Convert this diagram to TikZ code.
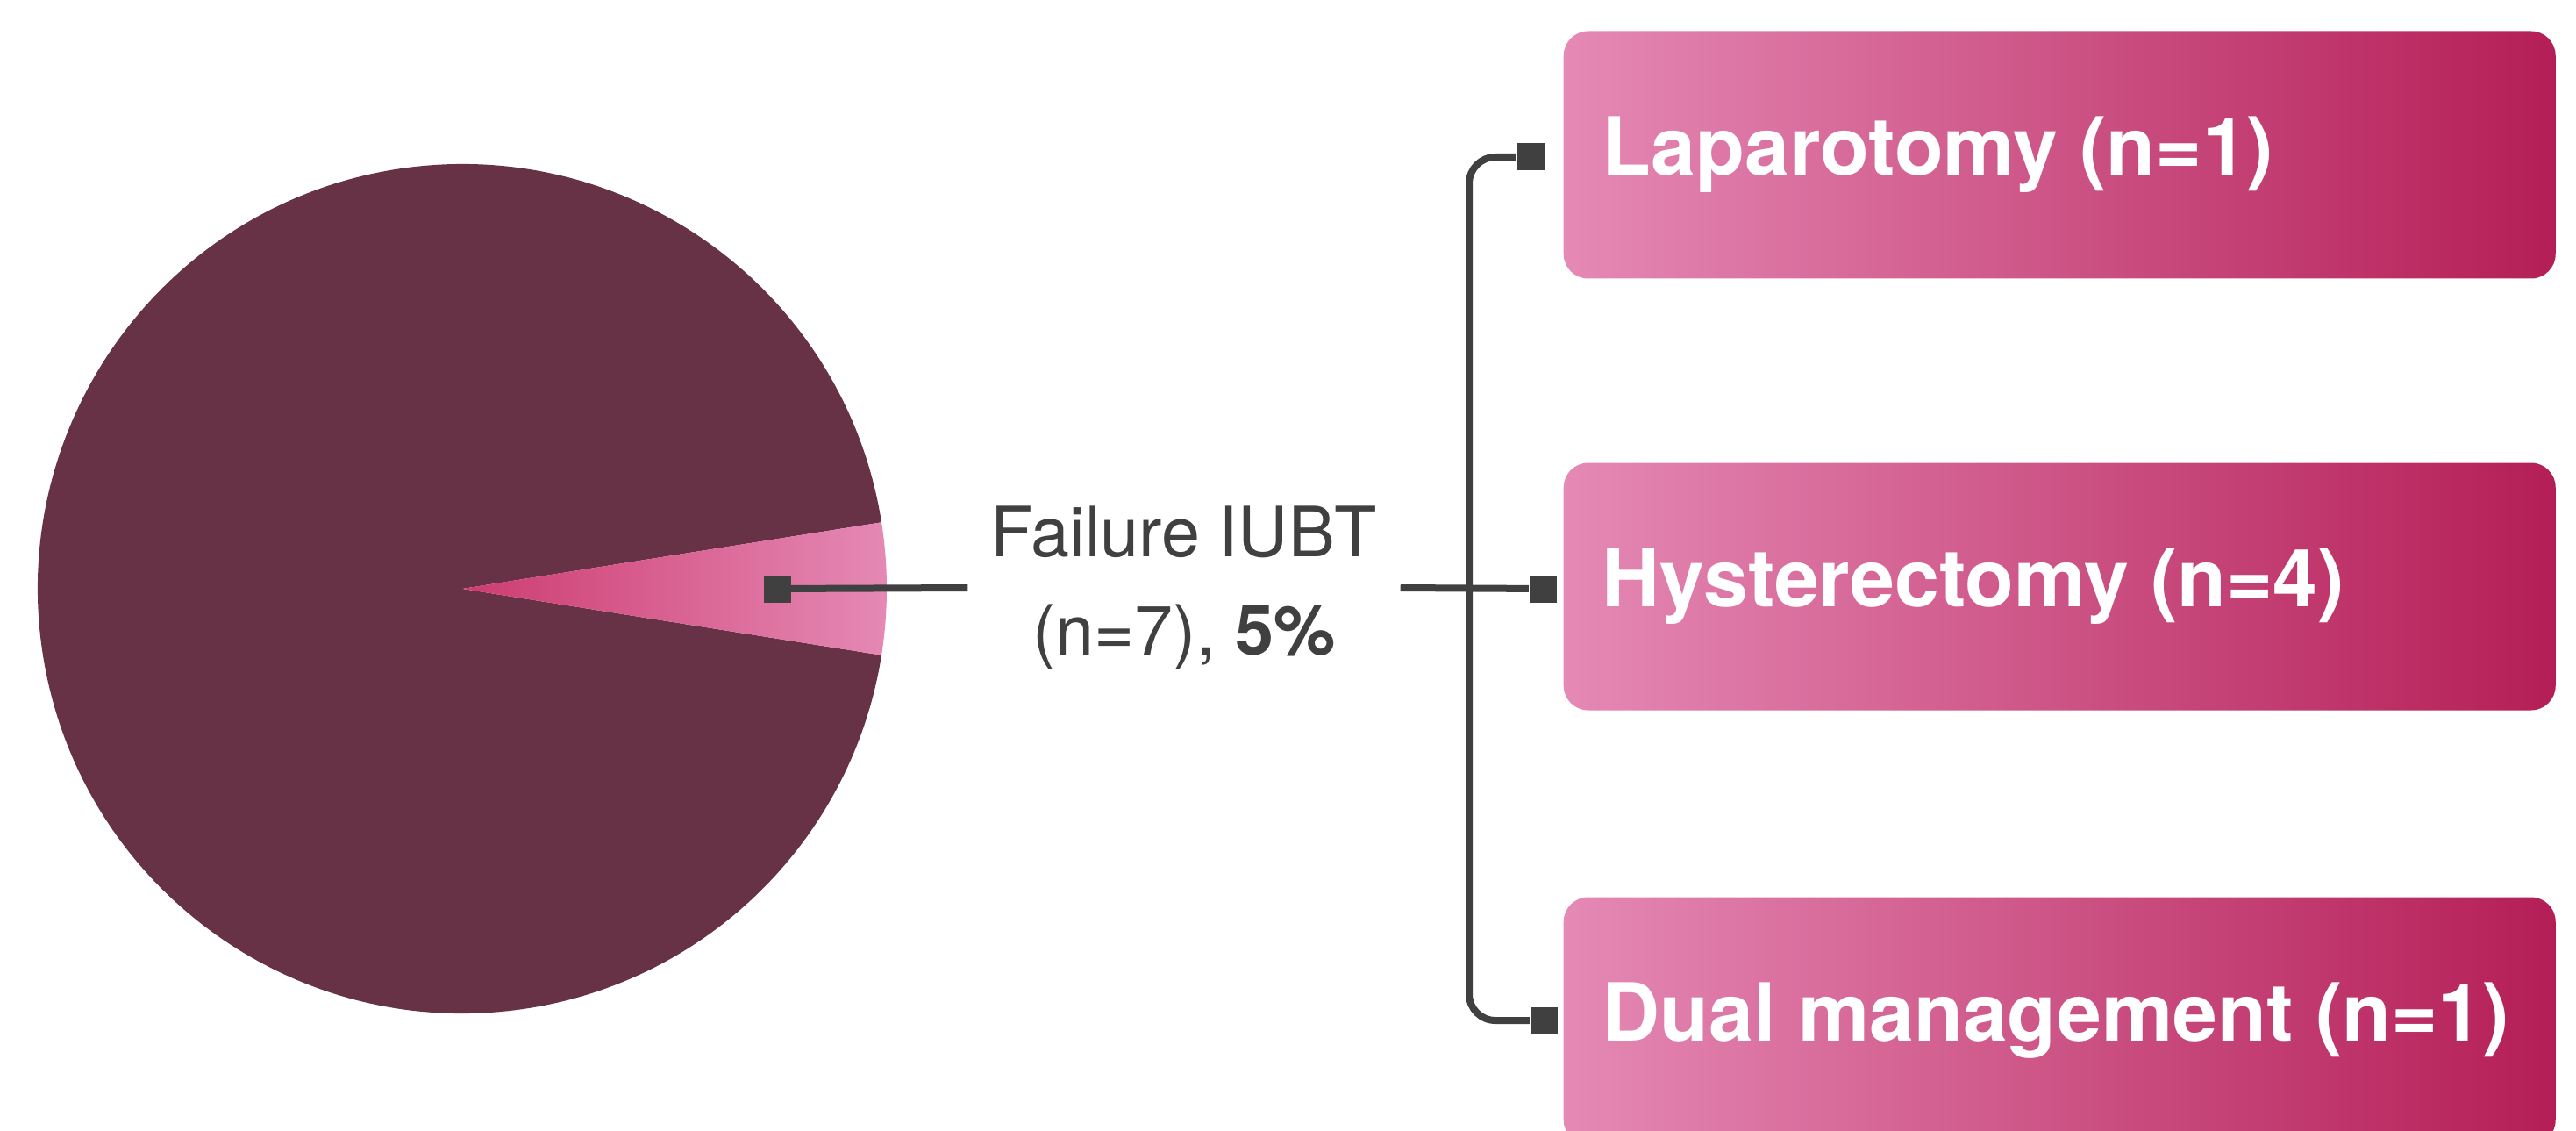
\documentclass[tikz,border=0pt]{standalone}
\usepackage{fontspec}
\setmainfont{TeX Gyre Heros}
\usetikzlibrary{positioning}
\definecolor{piedark}{RGB}{103,50,70}
\definecolor{pinklight}{RGB}{229,137,181}
\definecolor{pinkdeep}{RGB}{205,60,112}
\definecolor{berry}{RGB}{180,30,86}
\definecolor{linegray}{RGB}{64,64,64}
\tikzstyle{outcome}=[anchor=west, rounded corners=0.28cm, minimum width=11.31cm, minimum height=2.82cm, inner sep=0pt, left color=pinklight, right color=berry]
\tikzstyle{outcome text}=[text=white, inner sep=0pt, font=\fontsize{26}{31}\selectfont\bfseries]
\tikzstyle{stub}=[rectangle, fill=linegray, minimum size=0.31cm, inner sep=0pt]
\tikzstyle{link}=[draw=linegray, line width=0.08cm]

\begin{document}
\begin{tikzpicture}[scale=1]
    \useasboundingbox (0,0) rectangle (29.37,-12.88);

    % First we draw the pie with its 5% slice
    \coordinate (pie) at (5.27,-6.71);
    \fill[piedark] (pie) -- ++(9:4.84) arc (9:351:4.84) -- cycle;
    \shade[left color=pinkdeep, right color=pinklight] (pie) -- ++(-9:4.84) arc (-9:9:4.84) -- cycle;

    % Then the small square ends of the connectors
    \foreach \pos/\name in {{(8.86,-6.71)/m0}, {(17.45,-1.79)/m1}, {(17.59,-6.71)/m2}, {(17.60,-11.63)/m3}}
        \node[stub] (\name) at \pos {};

    % Label of the slice
    \node[font=\fontsize{22.5}{32}\selectfont, text=linegray, align=center, minimum width=4.92cm, inner sep=0pt] (fail) at (13.50,-6.70) {Failure IUBT\\(n=7), \textbf{5\%}};

    % Outcome boxes and their texts
    \foreach \y/\name/\txt in {{-1.765/lap/Laparotomy (n=1)}, {-6.685/hys/Hysterectomy (n=4)}, {-11.635/dual/Dual management (n=1)}}{
        \node[outcome] (\name) at (17.82,\y) {};
        \node[outcome text, right=0.44cm of \name.west] (\name txt) {\txt};
    }

    % Connect slice, label and boxes
    \coordinate (spine) at (16.75,-6.71);
    \path[link] (m0) -- (fail.west);
    \path[link] (fail.east) -- (m2);
    \path[link, rounded corners=0.3cm] (m1.west) -| (spine) |- (m3.west);
\end{tikzpicture}
\end{document}
